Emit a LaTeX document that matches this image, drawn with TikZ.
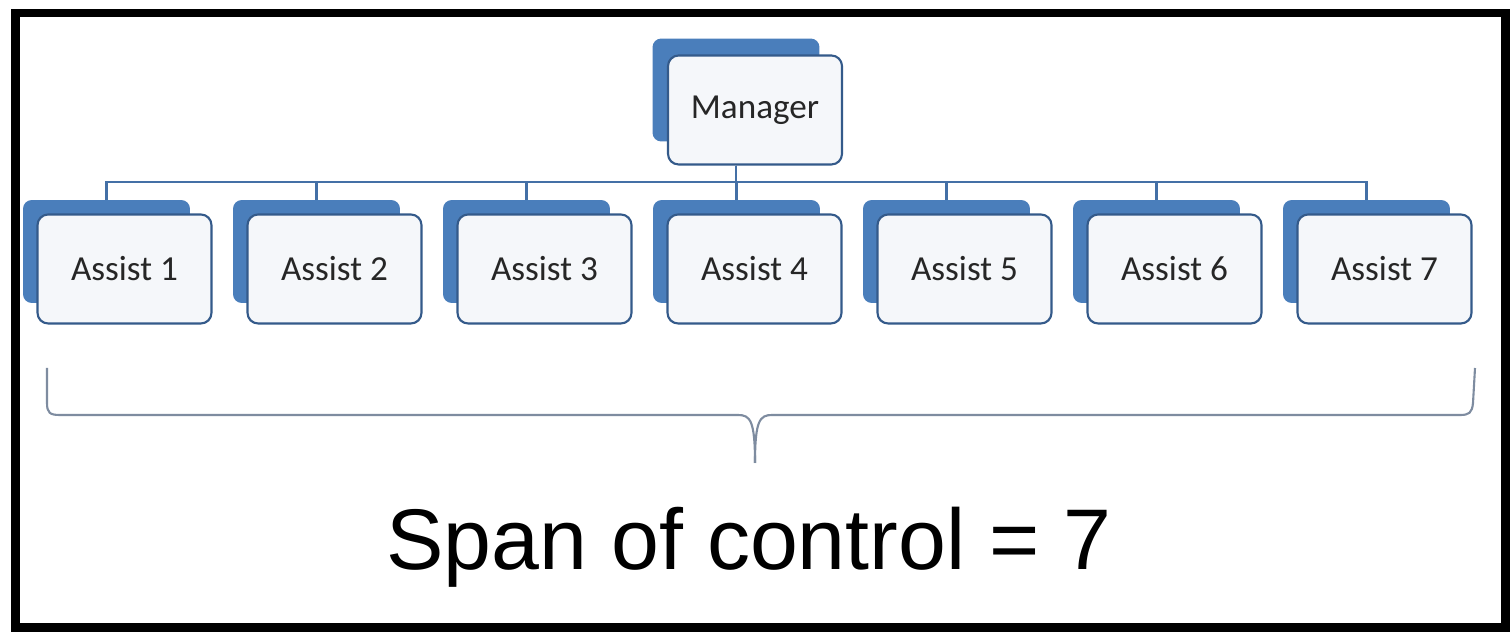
\documentclass[tikz,border=0pt]{standalone}
\usepackage{fontspec}
\setmainfont{Carlito}
\newfontfamily\arialfont{Liberation Sans}
\usetikzlibrary{backgrounds,calc}
\pgfdeclarelayer{canvas}
\pgfsetlayers{canvas,background,main}
\definecolor{shadowblue}{HTML}{4A7EBB}
\definecolor{boxedge}{HTML}{345A8A}
\definecolor{boxfill}{HTML}{F5F7FA}
\definecolor{connblue}{HTML}{4470A6}
\definecolor{bracegray}{HTML}{7E8CA0}
\tikzset{
  shadowbox/.style={fill=shadowblue, draw=none, rounded corners=5pt,
    minimum width=3.34cm, minimum height=2.06cm, inner sep=0pt},
  frontbox/.style={fill=boxfill, draw=boxedge, line width=1.2pt, rounded corners=6pt,
    minimum width=3.48cm, minimum height=2.18cm, inner sep=0pt,
    font=\fontsize{20}{24}\selectfont, text=black!85},
  conn/.style={draw=connblue, line width=1.5pt},
  bracestyle/.style={draw=bracegray, line width=1.2pt},
  frame/.style={draw=black, line width=4.6pt}
}
\begin{document}
\begin{tikzpicture}[x=0.02cm,y=-0.02cm]
\useasboundingbox (0,0) rectangle (1512,634);
\begin{pgfonlayer}{canvas}
\fill[white] (0,0) rectangle (1512,634);
\end{pgfonlayer}
\draw[frame] (15.5,13) rectangle (1505.5,627.5);

% manager
\node[shadowbox] (mgrS) at (736,90) {};
\node[frontbox] (mgr) at (755,110) {Manager};

% assistants
\foreach \i in {1,...,7}{
  \node[shadowbox] (a\i S) at ({106.5+210*(\i-1)},251.5) {};
  \node[frontbox] (a\i) at ({124.5+210*(\i-1)},269) {Assist \i};
}

\coordinate (bus) at (736,182);
\begin{pgfonlayer}{background}
  \foreach \i in {1,...,7}{
    \draw[conn] (mgrS.center |- mgr.south) -- (bus) -| (a\i S.north);
  }
\end{pgfonlayer}

% brace
\coordinate (bL) at (47,368);
\coordinate (bR) at (1475,368);
\coordinate (bTip) at (755,463);
\draw[bracestyle] (bL) -- (47,403) .. controls (47,413) and (50,415) .. (60,415)
  -- (738,415) .. controls (750,415) and (755,420) .. (bTip);
\draw[bracestyle] (bR) -- (1473,403) .. controls (1472,413) and (1469,415) .. (1460,415)
  -- (772,415) .. controls (760,415) and (755,420) .. (bTip);

\node[font=\arialfont\fontsize{49}{58}\selectfont, anchor=base] (span) at (749,570) {Span of control = 7};
\end{tikzpicture}
\end{document}
